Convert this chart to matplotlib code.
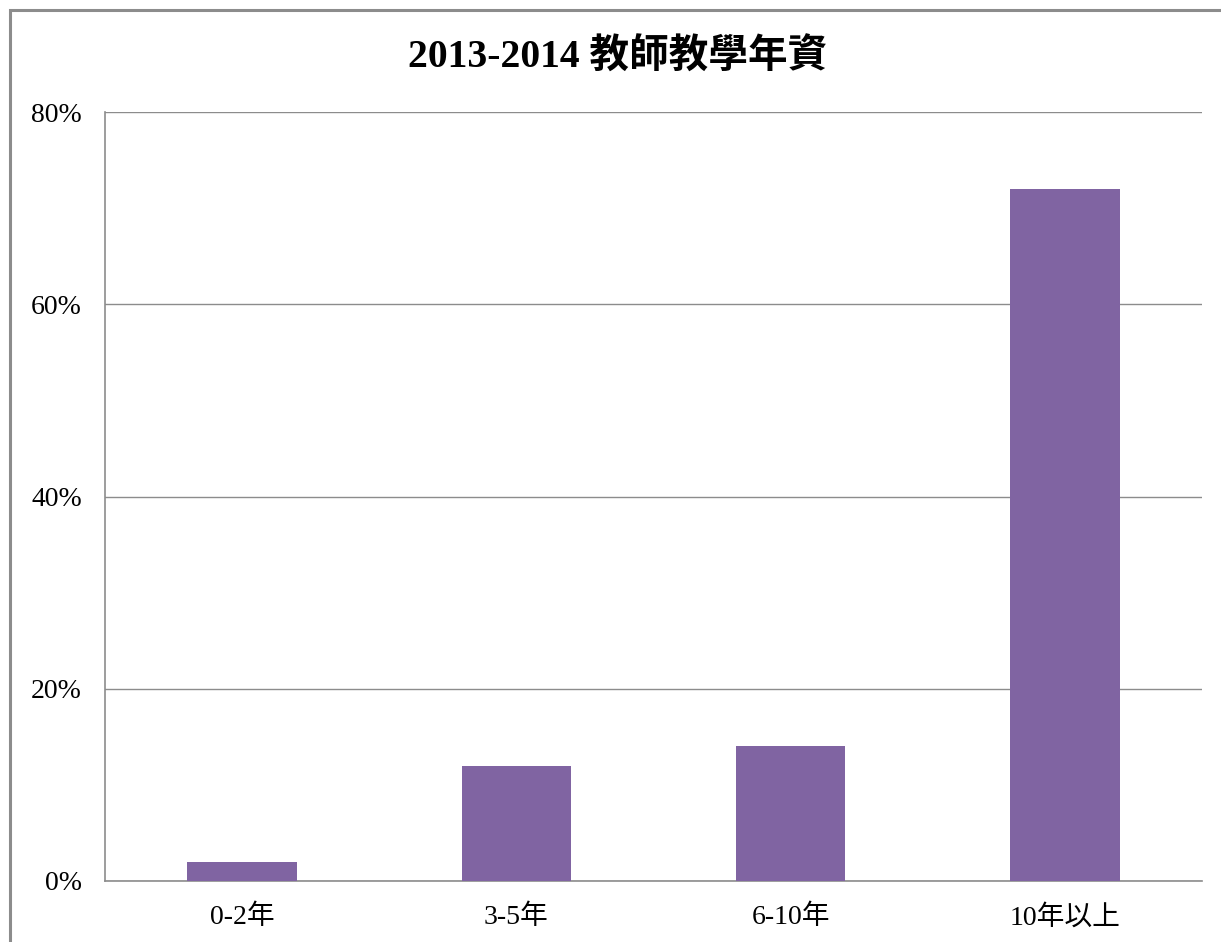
import matplotlib
matplotlib.use("Agg")
import matplotlib.pyplot as plt
from matplotlib.patches import Rectangle
from matplotlib.ticker import FuncFormatter

categories = ["0-2年", "3-5年", "6-10年", "10年以上"]
values = [2, 12, 14, 72]
title = "2013-2014 教師教學年資"
yticks = [0, 20, 40, 60, 80]

FONT = ["Liberation Serif", "Noto Sans CJK TC", "DejaVu Sans"]
plt.rcParams["font.family"] = FONT

W, H = 1221, 942
fig = plt.figure(figsize=(W / 100, H / 100), dpi=100)

# outer chart frame
fig.patches.append(Rectangle((10 / W, -0.05), 1.1, 1 - 10 / H + 0.05,
                             transform=fig.transFigure, fill=False,
                             edgecolor="#8c8c8c", linewidth=2.2, clip_on=False))

ax = fig.add_axes([105 / W, (H - 881) / H, (1202 - 105) / W, (881 - 112) / H])
x = range(len(categories))
ax.bar(x, values, width=0.4, color="#8064A2", zorder=3)
ax.set_xlim(-0.5, len(categories) - 0.5)
ax.set_ylim(0, 80)
ax.set_yticks(yticks)
ax.yaxis.set_major_formatter(FuncFormatter(lambda v, p: f"{int(v)}%"))
ax.set_xticks(list(x))
ax.set_xticklabels(categories)
ax.grid(axis="y", color="#8c8c8c", linewidth=1.0, zorder=0)
for s in ["top", "right"]:
    ax.spines[s].set_visible(False)
for s in ["left", "bottom"]:
    ax.spines[s].set_color("#8c8c8c")
    ax.spines[s].set_linewidth(1.2)
ax.tick_params(axis="both", length=0, labelsize=20)
ax.tick_params(axis="y", pad=16.5)
ax.tick_params(axis="x", pad=17)

fig.text(618 / W, 1 - 58 / H, title, ha="center", va="center",
         fontsize=28.5, fontweight="bold")

fig.savefig("out.png", dpi=100)
